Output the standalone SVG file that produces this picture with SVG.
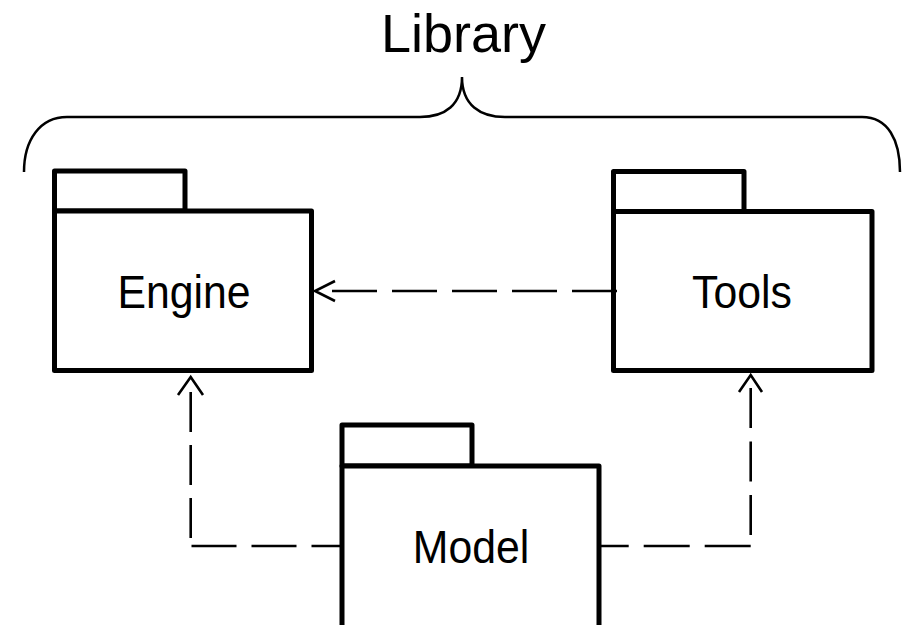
<svg xmlns="http://www.w3.org/2000/svg" width="908" height="625" viewBox="0 0 908 625">
<style>
.pkg{fill:#fff;stroke:#000;stroke-width:5;stroke-linejoin:round}
.lbl{font-family:"Liberation Sans",Arial,sans-serif;font-size:46px;fill:#000;text-anchor:middle}
.title{font-family:"Liberation Sans",Arial,sans-serif;font-size:54px;fill:#000;text-anchor:middle}
.brace{fill:none;stroke:#000;stroke-width:2.5}
.dash{fill:none;stroke:#000;stroke-width:2.6}
.head{fill:none;stroke:#000;stroke-width:2.6;stroke-linejoin:miter}
</style>
<rect width="908" height="625" fill="#fff"/>
<g id="library">
<path class="brace" d="M24,172 C24,140 40,117 67,117 H420 C445,117 462,105 462,77 C462,105 480,117 505,117 H862 C888,117 900,140 900,172"/>
<text class="title" x="463.5" y="52">Library</text>
</g>
<g id="engine">
<rect class="pkg" x="54.5" y="171" width="130.5" height="40"/>
<rect class="pkg" x="54.5" y="211" width="257" height="159.5"/>
<text class="lbl" transform="translate(184,308) scale(0.93,1)">Engine</text>
</g>
<g id="tools">
<rect class="pkg" x="613.5" y="171.5" width="130.5" height="40"/>
<rect class="pkg" x="613.5" y="211.5" width="258.5" height="159"/>
<text class="lbl" transform="translate(742,307.5) scale(0.93,1)">Tools</text>
</g>
<g id="model">
<rect class="pkg" x="342" y="425" width="130" height="41"/>
<rect class="pkg" x="342" y="466" width="257" height="170"/>
<text class="lbl" transform="translate(471,562.5) scale(0.93,1)">Model</text>
</g>
<g id="connectors">
<path class="dash" d="M617,291 H331" stroke-dasharray="45 15"/>
<path class="head" d="M335,281 L315,291 L335,301"/>
<path class="dash" d="M340,546 H190.7" stroke-dasharray="28.5 15 45 15 45"/>
<path class="dash" d="M190.7,538 V392" stroke-dasharray="40 13"/>
<path class="head" d="M178,395 L190.7,377 L203,395"/>
<path class="dash" d="M750.7,546 H600" stroke-dasharray="46 15"/>
<path class="dash" d="M750.7,535 V388" stroke-dasharray="40 13.5"/>
<path class="head" d="M739,392 L750.7,375 L762,392"/>
</g>
</svg>
